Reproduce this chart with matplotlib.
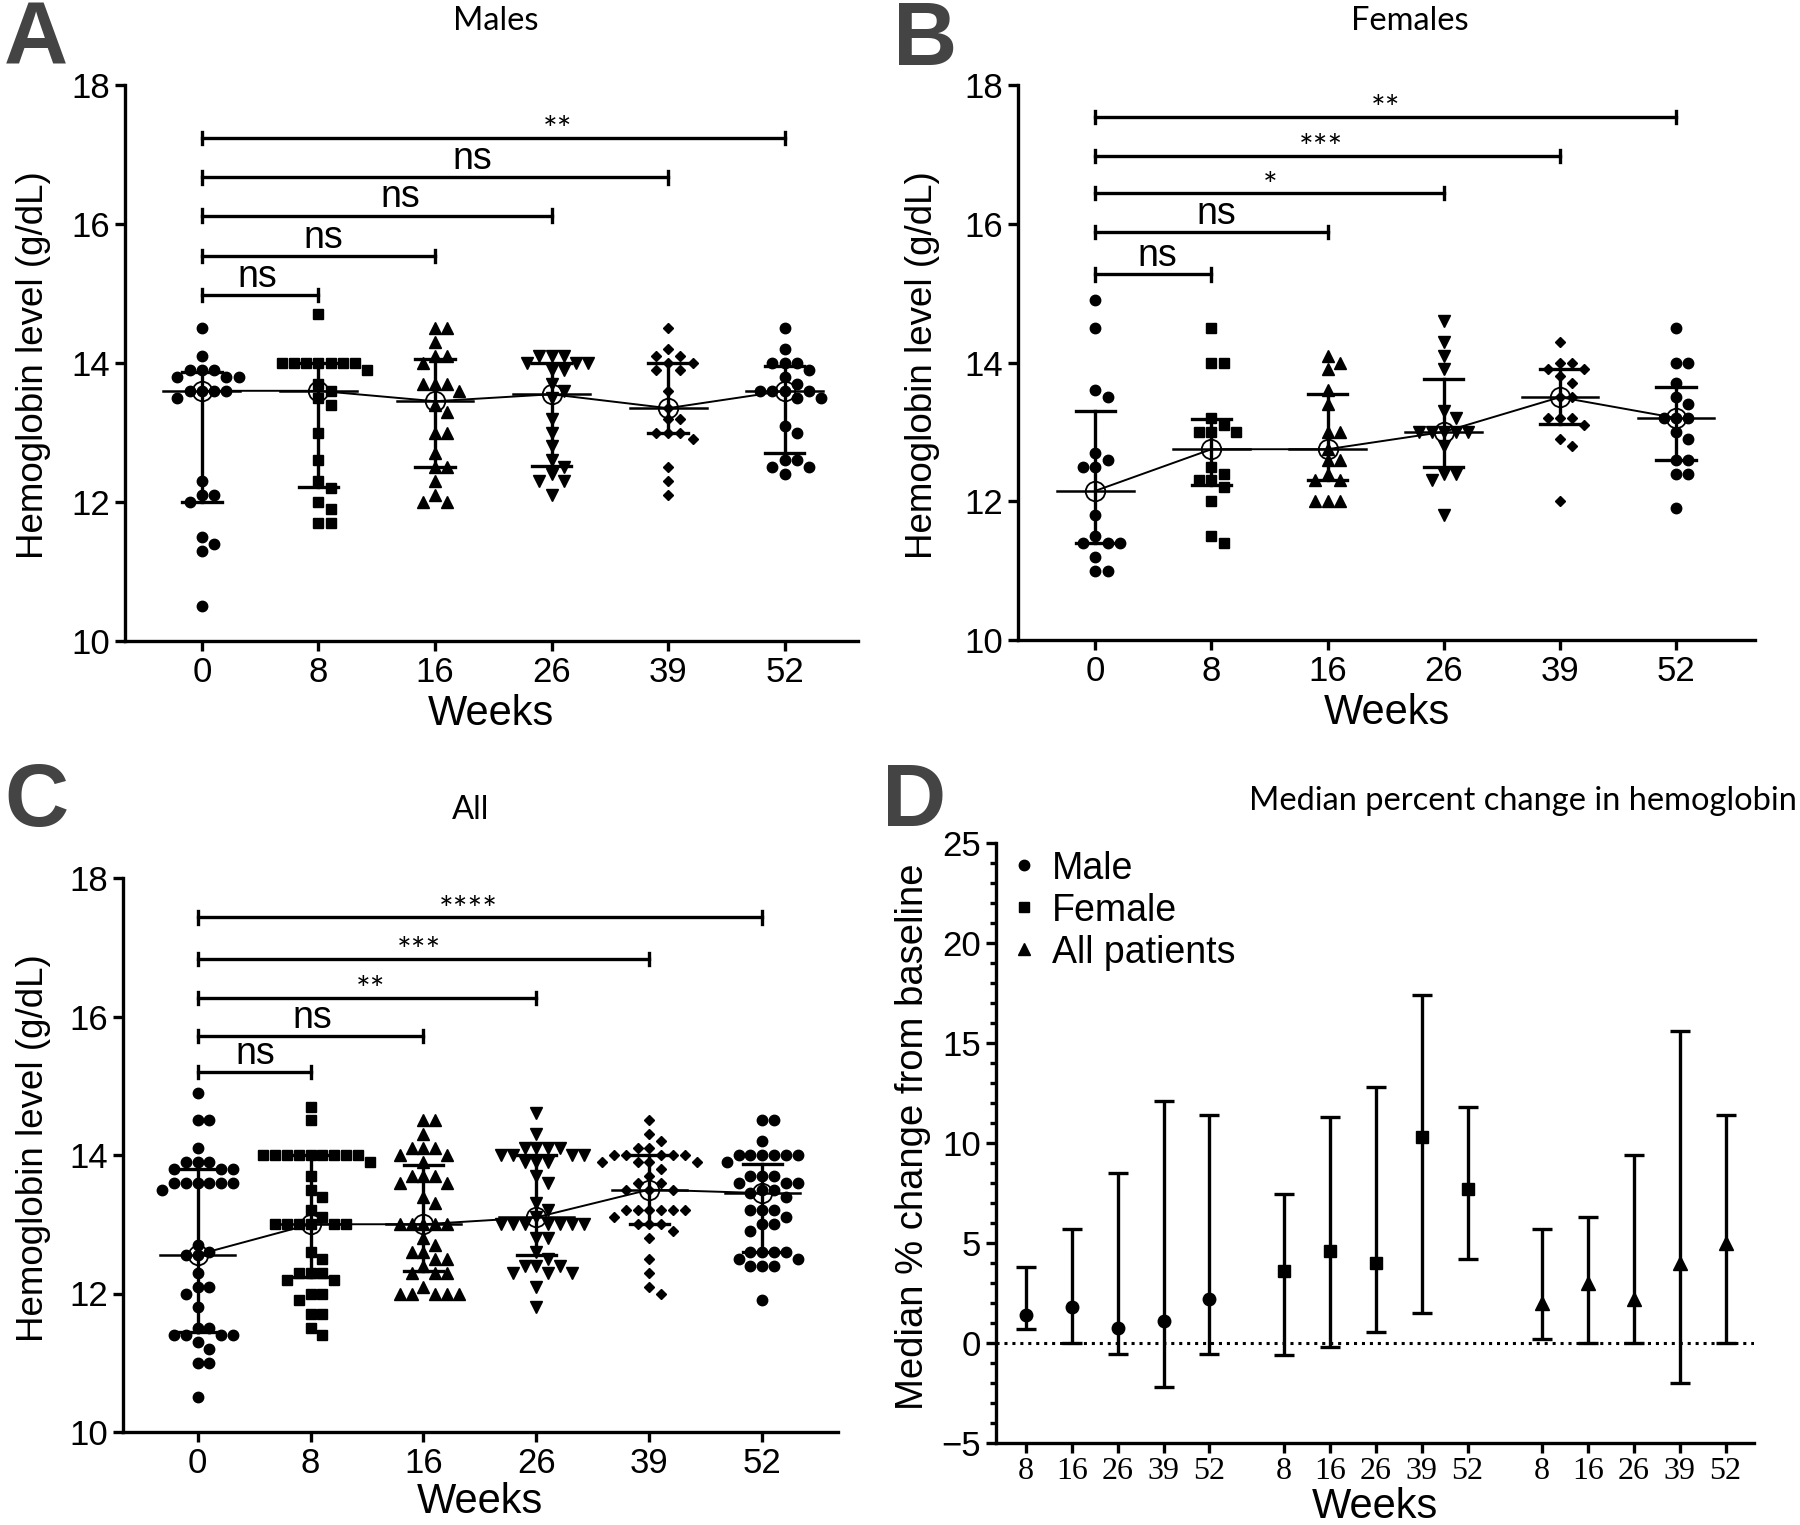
import numpy as np
import matplotlib
matplotlib.use("Agg")
import matplotlib.pyplot as plt
from matplotlib.lines import Line2D

plt.rcParams['font.family'] = ['Liberation Sans', 'DejaVu Sans']

# --- data ---------------------------------------------------------------------
weeks = ['0', '8', '16', '26', '39', '52']

# panel A, males: individual haemoglobin values (g/dL)
males_w0 = [14.5, 14.1, 13.9, 13.9, 13.9, 13.8, 13.8, 13.8, 13.6, 13.6, 13.6, 13.6, 13.5,
            12.3, 12.1, 12.1, 12.0, 11.5, 11.4, 11.3, 10.5]
males_w8 = [14.7, 14.0, 14.0, 14.0, 14.0, 14.0, 14.0, 14.0, 13.9, 13.7, 13.6, 13.5, 13.4,
            13.0, 12.6, 12.3, 12.2, 12.0, 11.9, 11.7, 11.7]
males_w16 = [14.5, 14.5, 14.3, 14.1, 14.1, 14.0, 13.7, 13.7, 13.7, 13.6, 13.4, 13.3, 13.0,
             13.0, 12.7, 12.5, 12.5, 12.3, 12.1, 12.0, 12.0]
males_w26 = [14.1, 14.1, 14.1, 14.0, 14.0, 14.0, 13.9, 13.9, 13.7, 13.6, 13.5, 13.2, 13.0,
             12.8, 12.6, 12.5, 12.4, 12.3, 12.3, 12.1]
males_w39 = [14.5, 14.2, 14.1, 14.1, 14.0, 14.0, 13.9, 13.9, 13.6, 13.35, 13.2, 13.2, 13.0,
             13.0, 13.0, 12.9, 12.5, 12.3, 12.1]
males_w52 = [14.5, 14.2, 14.0, 14.0, 14.0, 13.9, 13.8, 13.7, 13.6, 13.6, 13.6, 13.6, 13.5,
             13.5, 13.1, 13.0, 12.6, 12.6, 12.5, 12.5, 12.4]
males_med = [13.6, 13.6, 13.45, 13.55, 13.35, 13.6]
males_q1 = [12.0, 12.22, 12.5, 12.52, 13.0, 12.7]
males_q3 = [13.87, 14.0, 14.06, 14.0, 14.0, 13.95]
males_sig = ['ns', 'ns', 'ns', 'ns', '**']
males_sig_y = [14.98, 15.54, 16.12, 16.67, 17.24]

# panel B, females
females_w0 = [14.9, 14.5, 13.6, 13.5, 12.7, 12.6, 12.5, 12.5, 11.8, 11.5, 11.4, 11.4, 11.4,
              11.2, 11.0, 11.0]
females_w8 = [14.5, 14.0, 14.0, 13.2, 13.1, 13.0, 13.0, 13.0, 12.5, 12.4, 12.3, 12.3, 12.2,
              12.0, 11.5, 11.4]
females_w16 = [14.1, 14.0, 13.9, 13.6, 13.4, 13.0, 13.0, 12.75, 12.6, 12.6, 12.4, 12.3, 12.3,
               12.0, 12.0, 12.0]
females_w26 = [14.6, 14.3, 14.1, 13.9, 13.3, 13.2, 13.0, 13.0, 13.0, 13.0, 13.0, 12.8, 12.4,
               12.4, 12.3, 11.8]
females_w39 = [14.3, 14.0, 14.0, 13.9, 13.9, 13.8, 13.7, 13.5, 13.5, 13.2, 13.2, 13.2, 13.1,
               12.9, 12.8, 12.0]
females_w52 = [14.5, 14.0, 14.0, 13.7, 13.5, 13.4, 13.2, 13.2, 13.2, 13.0, 12.9, 12.6, 12.6,
               12.4, 12.4, 11.9]
females_med = [12.15, 12.75, 12.75, 13.0, 13.5, 13.2]
females_q1 = [11.4, 12.23, 12.3, 12.5, 13.12, 12.6]
females_q3 = [13.3, 13.18, 13.55, 13.76, 13.9, 13.65]
females_sig = ['ns', 'ns', '*', '***', '**']
females_sig_y = [15.27, 15.88, 16.44, 16.98, 17.54]

# panel C, all patients
all_w0 = [14.9, 14.5, 14.5, 14.1, 13.9, 13.9, 13.9, 13.8, 13.8, 13.8, 13.6, 13.6, 13.6, 13.6,
          13.6, 13.6, 13.5, 12.7, 12.6, 12.55, 12.55, 12.3, 12.1, 12.1, 12.0, 11.8, 11.5, 11.5,
          11.4, 11.4, 11.4, 11.4, 11.3, 11.2, 11.0, 11.0, 10.5]
all_w8 = [14.7, 14.5, 14.0, 14.0, 14.0, 14.0, 14.0, 14.0, 14.0, 14.0, 14.0, 13.9, 13.7, 13.5,
          13.4, 13.2, 13.1, 13.0, 13.0, 13.0, 13.0, 13.0, 13.0, 12.6, 12.5, 12.3, 12.3, 12.3,
          12.2, 12.2, 12.0, 12.0, 11.9, 11.7, 11.7, 11.5, 11.4]
all_w16 = [14.5, 14.5, 14.3, 14.1, 14.1, 14.1, 14.0, 14.0, 13.9, 13.7, 13.7, 13.7, 13.6, 13.6,
           13.4, 13.3, 13.0, 13.0, 13.0, 13.0, 13.0, 12.8, 12.7, 12.6, 12.6, 12.5, 12.5, 12.4,
           12.3, 12.3, 12.3, 12.1, 12.0, 12.0, 12.0, 12.0, 12.0]
all_w26 = [14.6, 14.3, 14.1, 14.1, 14.1, 14.1, 14.0, 14.0, 14.0, 14.0, 13.9, 13.9, 13.9, 13.7,
           13.6, 13.3, 13.2, 13.1, 13.0, 13.0, 13.0, 13.0, 13.0, 13.0, 13.0, 12.8, 12.8, 12.6,
           12.5, 12.4, 12.4, 12.4, 12.3, 12.3, 12.3, 12.1, 11.8]
all_w39 = [14.5, 14.3, 14.2, 14.1, 14.1, 14.0, 14.0, 14.0, 14.0, 14.0, 13.9, 13.9, 13.9, 13.9,
           13.8, 13.7, 13.6, 13.6, 13.5, 13.5, 13.5, 13.2, 13.2, 13.2, 13.2, 13.2, 13.2, 13.1,
           13.0, 13.0, 13.0, 12.9, 12.8, 12.5, 12.3, 12.1, 12.0]
all_w52 = [14.5, 14.5, 14.2, 14.0, 14.0, 14.0, 14.0, 14.0, 14.0, 13.9, 13.7, 13.7, 13.7, 13.6,
           13.6, 13.6, 13.5, 13.5, 13.45, 13.4, 13.2, 13.2, 13.2, 13.1, 13.0, 13.0, 12.9, 12.6,
           12.6, 12.6, 12.6, 12.5, 12.5, 12.4, 12.4, 12.4, 11.9]
all_med = [12.56, 13.0, 13.0, 13.1, 13.5, 13.45]
all_q1 = [11.44, 12.24, 12.33, 12.55, 13.0, 12.6]
all_q3 = [13.8, 14.0, 13.86, 14.0, 14.0, 13.87]
all_sig = ['ns', 'ns', '**', '***', '****']
all_sig_y = [15.2, 15.72, 16.27, 16.83, 17.43]

# panel D, median % change from baseline with range bars
d_weeks = ['8', '16', '26', '39', '52']
male_pct = [1.4, 1.8, 0.75, 1.1, 2.2]
male_lo = [0.7, 0.0, -0.55, -2.2, -0.55]
male_hi = [3.8, 5.7, 8.5, 12.1, 11.4]
female_pct = [3.6, 4.6, 4.0, 10.3, 7.7]
female_lo = [-0.6, -0.2, 0.55, 1.5, 4.2]
female_hi = [7.45, 11.3, 12.8, 17.4, 11.8]
allpt_pct = [2.0, 3.0, 2.2, 4.0, 5.0]
allpt_lo = [0.2, 0.0, 0.0, -2.0, 0.0]
allpt_hi = [5.7, 6.3, 9.4, 15.6, 11.4]


W, H = 1800, 1525
LW = 2.4
SANS = ['Liberation Sans', 'DejaVu Sans']
TITLE = ['Lato', 'DejaVu Sans']


def swarm_x(vals, xpx, ypx, step=0.105, d=10.0):
    # greedy beeswarm, like Prism's scatter spreading
    vals = np.asarray(vals, float)
    xs = np.zeros(len(vals))
    placed = []
    for i in np.argsort(-vals, kind='stable'):
        for k in range(60):
            off = ((k + 1) // 2) * step * (1 if k % 2 else -1) if k else 0.0
            if all(np.hypot((off - px) * xpx, (vals[i] - py) * ypx) >= d for px, py in placed):
                break
        xs[i] = off
        placed.append((off, vals[i]))
    return xs


def axes_px(l, t, r, b):
    return [l / W, 1 - b / H, (r - l) / W, (b - t) / H]


def style(ax):
    for s in ('top', 'right'):
        ax.spines[s].set_visible(False)
    for s in ('left', 'bottom'):
        ax.spines[s].set_linewidth(LW)
    ax.tick_params(direction='out', length=7, width=LW, labelsize=25, pad=4)


def hb_panel(ax, groups, med, q1, q3, sig, sig_y, sig_tx, xlim, xpx):
    markers = ['o', 's', '^', 'v', 'D', 'o']
    sizes = [7.5, 7, 8, 8, 5, 7.5]
    for i, (vals, m, s) in enumerate(zip(groups, markers, sizes)):
        xo = swarm_x(vals, xpx, 69.5)
        ax.plot(i + xo, vals, ls='none', marker=m, ms=s, color='k', zorder=2)
    x = np.arange(len(med))
    ax.plot(x, med, color='k', lw=1.4, zorder=3)
    for i in x:
        ax.plot([i, i], [q1[i], q3[i]], color='k', lw=LW, zorder=3)
        ax.plot([i - 0.17, i + 0.17], [q3[i]] * 2, color='k', lw=LW, zorder=3)
        ax.plot([i - 0.17, i + 0.17], [q1[i]] * 2, color='k', lw=LW, zorder=3)
        ax.plot([i - 0.33, i + 0.33], [med[i]] * 2, color='k', lw=1.8, zorder=3)
    ax.plot(x, med, ls='none', marker='o', ms=14, mfc='none', mec='k', mew=1.3, zorder=4)

    for j, (lab, y, tx) in enumerate(zip(sig, sig_y, sig_tx)):
        end = j + 1
        ax.plot([0, end], [y, y], color='k', lw=LW, clip_on=False)
        for e in (0, end):
            ax.plot([e, e], [y - 0.09, y + 0.09], color='k', lw=LW, clip_on=False)
        if lab == 'ns':
            ax.text(tx, y + 0.12, lab, ha='center', va='baseline', fontsize=27, family=SANS)
        else:
            ax.text(tx, y - 0.05, lab, ha='center', va='baseline', fontsize=25, family=TITLE)

    ax.set_xlim(*xlim)
    ax.set_ylim(10, 18)
    ax.set_yticks([10, 12, 14, 16, 18])
    ax.set_xticks(x)
    ax.set_xticklabels(weeks)
    style(ax)
    ax.spines['left'].set_bounds(10, 18)


fig = plt.figure(figsize=(W / 100, H / 100), dpi=100)

axA = fig.add_axes(axes_px(125, 85, 858, 641))
hb_panel(axA, [males_w0, males_w8, males_w16, males_w26, males_w39, males_w52],
         males_med, males_q1, males_q3, males_sig, males_sig_y,
         [0.48, 1.04, 1.70, 2.32, 3.05], (-0.66, 5.63), 116.5)

axB = fig.add_axes(axes_px(1018, 85, 1755, 640))
hb_panel(axB, [females_w0, females_w8, females_w16, females_w26, females_w39, females_w52],
         females_med, females_q1, females_q3, females_sig, females_sig_y,
         [0.53, 1.04, 1.51, 1.94, 2.5], (-0.666, 5.68), 116.1)

axC = fig.add_axes(axes_px(123, 878, 838, 1432))
hb_panel(axC, [all_w0, all_w8, all_w16, all_w26, all_w39, all_w52],
         all_med, all_q1, all_q3, all_sig, all_sig_y,
         [0.51, 1.02, 1.53, 1.96, 2.40], (-0.66, 5.67), 112.9)

# panel D
axD = fig.add_axes(axes_px(996, 843, 1754, 1443))
gap = 5.62
series = [(male_pct, male_lo, male_hi, 'o', 9, 'Male'),
          (female_pct, female_lo, female_hi, 's', 9, 'Female'),
          (allpt_pct, allpt_lo, allpt_hi, '^', 9.5, 'All patients')]
handles = []
pos_all, lab_all = [], []
for g, (med, lo, hi, m, ms, name) in enumerate(series):
    pos = np.arange(len(med)) + g * gap
    med = np.asarray(med); lo = np.asarray(lo); hi = np.asarray(hi)
    axD.errorbar(pos, med, yerr=[med - lo, hi - med], fmt=m, ms=ms, color='k',
                 ecolor='k', elinewidth=LW, capsize=7, capthick=LW, zorder=3)
    handles.append(Line2D([], [], ls='none', marker=m, ms=ms - 1.5, color='k', label=name))
    pos_all += list(pos); lab_all += d_weeks
axD.axhline(0, color='k', lw=2.2, ls=(0, (1, 1.6)), zorder=2)
axD.set_xlim(-0.65, 15.86)
axD.set_ylim(-5, 25)
axD.set_yticks(np.arange(-5, 26, 5))
axD.set_yticks(np.arange(-5, 26, 1), minor=True)
axD.set_xticks(pos_all)
style(axD)
axD.set_xticklabels(lab_all, family=['Liberation Serif', 'DejaVu Serif'], fontsize=23)
axD.tick_params(axis='x', pad=3)
axD.tick_params(axis='y', which='minor', length=4, width=LW)
axD.spines['left'].set_bounds(-5, 25)
axD.legend(handles=handles, loc='upper left', bbox_to_anchor=(-0.02, 1.025), frameon=False,
           fontsize=27, handletextpad=0.2, labelspacing=0.16, handlelength=1.1,
           borderaxespad=0.2)

# axis titles and labels
for txt, x, y in [('Males', 496, 21), ('Females', 1410, 21), ('All', 471, 810),
                  ('Median percent change in hemoglobin', 1523, 801)]:
    fig.text(x / W, 1 - y / H, txt, ha='center', va='center', fontsize=23.5, family=TITLE)

for txt, x, y, fs in [('Hemoglobin level (g/dL)', 34, 365, 26.5),
                      ('Hemoglobin level (g/dL)', 922, 365, 26.5),
                      ('Hemoglobin level (g/dL)', 34, 1148, 26.5),
                      ('Median % change from baseline', 913, 1137, 27.5)]:
    fig.text(x / W, 1 - y / H, txt, ha='center', va='center', rotation=90, fontsize=fs,
             family=SANS)

for x, y in [(491, 714), (1387, 713), (480, 1502), (1375, 1507)]:
    fig.text(x / W, 1 - y / H, 'Weeks', ha='center', va='center', fontsize=30, family=SANS)

for lab, x, y in [('A', 4, 0), ('B', 893, 0), ('C', 4, 761), ('D', 882, 761)]:
    fig.text(x / W, 1 - y / H, lab, ha='left', va='top', fontsize=64, fontweight='bold',
             color='#444444')

fig.savefig('out.png', dpi=100)
